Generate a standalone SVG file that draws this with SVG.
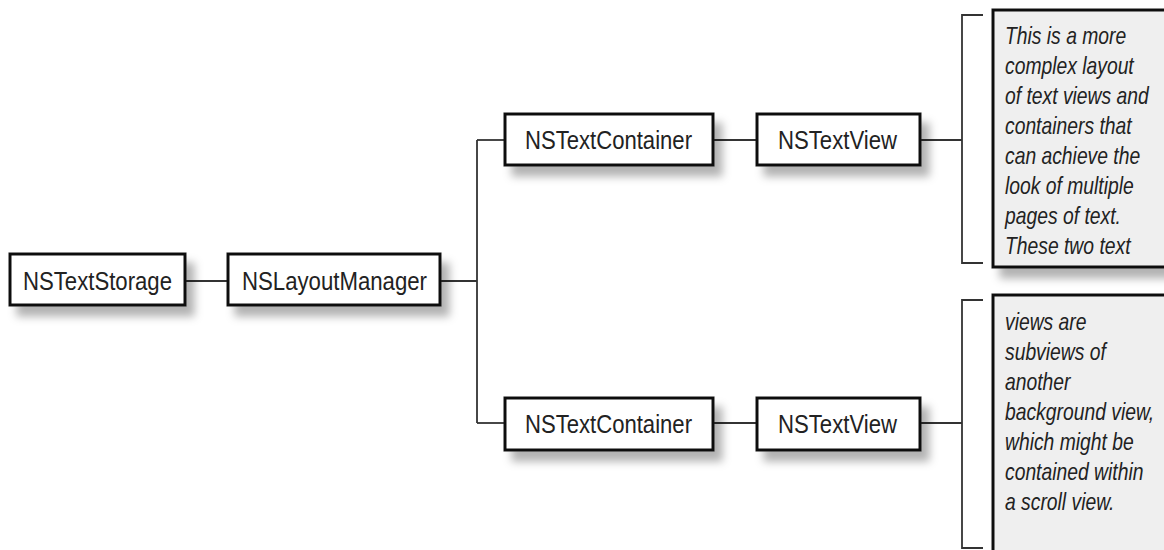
<svg xmlns="http://www.w3.org/2000/svg" width="1164" height="550" viewBox="0 0 1164 550">
<style>
.box{fill:#fff;stroke:#111;stroke-width:3}
.note{fill:#efefef;stroke:#111;stroke-width:3}
.lbl{font-family:"Liberation Sans Narrow","Liberation Sans",Arial,sans-serif;font-size:26px;fill:#222}
.nt{font-family:"Liberation Sans","Liberation Sans Narrow",Arial,sans-serif;font-size:23px;font-style:italic;fill:#222}
.ln{fill:none;stroke:#333;stroke-width:1.8}
</style>
<defs>
<filter id="sh" x="-20%" y="-30%" width="150%" height="180%">
<feGaussianBlur in="SourceAlpha" stdDeviation="4"/>
<feOffset dx="8" dy="10" result="b"/>
<feFlood flood-color="#000" flood-opacity="0.3"/>
<feComposite in2="b" operator="in" result="s"/>
<feMerge><feMergeNode in="s"/><feMergeNode in="SourceGraphic"/></feMerge>
</filter>
</defs>
<g id="connectors">
<path class="ln" d="M185 281H228"/>
<path class="ln" d="M440 281H477"/>
<path class="ln" d="M477 140V423"/>
<path class="ln" d="M477 140H505"/>
<path class="ln" d="M477 423H505"/>
<path class="ln" d="M713 140H757"/>
<path class="ln" d="M713 423H757"/>
<path class="ln" d="M920 140H962"/>
<path class="ln" d="M920 423H962"/>
<path class="ln" d="M983 15H962V263H983"/>
<path class="ln" d="M983 300H962V548H983"/>
</g>
<g id="storage">
<rect class="box" x="10" y="254" width="175" height="51" filter="url(#sh)"/>
<text class="lbl" x="23" y="290" textLength="149" lengthAdjust="spacingAndGlyphs">NSTextStorage</text>
</g>
<g id="layout">
<rect class="box" x="228" y="254" width="212" height="51" filter="url(#sh)"/>
<text class="lbl" x="242" y="290" textLength="185" lengthAdjust="spacingAndGlyphs">NSLayoutManager</text>
</g>
<g id="container1">
<rect class="box" x="505" y="114" width="208" height="51" filter="url(#sh)"/>
<text class="lbl" x="525" y="149" textLength="167" lengthAdjust="spacingAndGlyphs">NSTextContainer</text>
</g>
<g id="view1">
<rect class="box" x="757" y="114" width="163" height="51" filter="url(#sh)"/>
<text class="lbl" x="778" y="149" textLength="119" lengthAdjust="spacingAndGlyphs">NSTextView</text>
</g>
<g id="container2">
<rect class="box" x="505" y="398" width="208" height="52" filter="url(#sh)"/>
<text class="lbl" x="525" y="433" textLength="167" lengthAdjust="spacingAndGlyphs">NSTextContainer</text>
</g>
<g id="view2">
<rect class="box" x="757" y="398" width="163" height="52" filter="url(#sh)"/>
<text class="lbl" x="778" y="433" textLength="119" lengthAdjust="spacingAndGlyphs">NSTextView</text>
</g>
<g id="note1">
<rect class="note" x="993" y="10" width="200" height="257" filter="url(#sh)"/>
<g transform="translate(1005 0) scale(0.84 1)">
<text class="nt" x="0" y="44">This is a more</text>
<text class="nt" x="0" y="74">complex layout</text>
<text class="nt" x="0" y="104">of text views and</text>
<text class="nt" x="0" y="134">containers that</text>
<text class="nt" x="0" y="164">can achieve the</text>
<text class="nt" x="0" y="194">look of multiple</text>
<text class="nt" x="0" y="224">pages of text.</text>
<text class="nt" x="0" y="254">These two text</text>
</g>
</g>
<g id="note2">
<rect class="note" x="993" y="295" width="200" height="280" filter="url(#sh)"/>
<g transform="translate(1005 0) scale(0.84 1)">
<text class="nt" x="0" y="330">views are</text>
<text class="nt" x="0" y="360">subviews of</text>
<text class="nt" x="0" y="390">another</text>
<text class="nt" x="0" y="420">background view,</text>
<text class="nt" x="0" y="450">which might be</text>
<text class="nt" x="0" y="480">contained within</text>
<text class="nt" x="0" y="510">a scroll view.</text>
</g>
</g>
</svg>
